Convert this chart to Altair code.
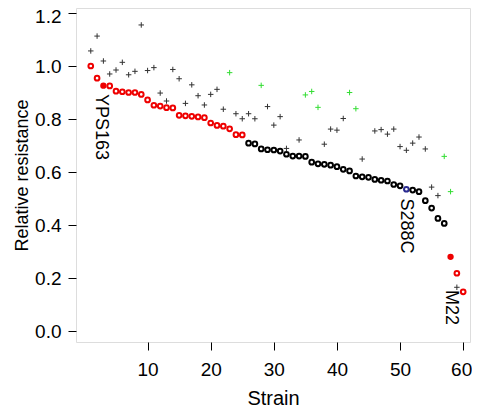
import altair as alt
import pandas as pd

strain = list(range(1, 61))
resist = [1.000, 0.954, 0.926, 0.925, 0.905, 0.903, 0.900, 0.900, 0.893, 0.872,
          0.852, 0.849, 0.843, 0.842, 0.814, 0.812, 0.810, 0.808, 0.805, 0.785,
          0.776, 0.773, 0.763, 0.741, 0.740, 0.709, 0.706, 0.687, 0.684, 0.683,
          0.679, 0.667, 0.660, 0.660, 0.659, 0.637, 0.631, 0.629, 0.626, 0.620,
          0.610, 0.604, 0.585, 0.582, 0.580, 0.572, 0.569, 0.566, 0.553, 0.548,
          0.535, 0.532, 0.526, 0.492, 0.464, 0.425, 0.406, 0.280, 0.218, 0.148]
group = (["red"] * 25 + ["black"] * 25 + ["blue"] + ["black"] * 6 + ["red"] * 3)
filled = [False] * 60
filled[2] = True
filled[57] = True

plus_val = [1.057, 1.113, 1.019, 0.970, 0.985, 1.014, 0.967, 0.980, 1.155, 0.983,
            0.994, 0.898, 0.868, 0.987, 0.952, 0.859, 0.929, 0.888, 0.853, 0.893,
            0.912, 0.837, 0.975, 0.820, 0.801, 0.820, 0.801, 0.927, 0.847, 0.777,
            0.809, 0.689, None, 0.721, 0.891, 0.904, 0.844, 0.705, 0.762, 0.758,
            0.802, 0.900, 0.839, 0.649, None, 0.755, 0.760, 0.743, 0.762, 0.696,
            0.682, 0.709, 0.732, 0.687, 0.543, 0.511, 0.659, 0.526, 0.165, None]
green_idx = [23, 28, 35, 36, 37, 42, 43, 57, 58]
plus_group = ["green" if s in green_idx else "plus" for s in strain]

lab_text = ["YPS163", "S288C", "M22"]
lab_x = [2.68, 51.0, 58.1]
lab_y = [0.770, 0.396, 0.089]

df = pd.DataFrame({"strain": strain, "resist": resist, "group": group, "filled": filled})
dp = pd.DataFrame({"strain": strain, "val": plus_val, "group": plus_group}).dropna()
dl = pd.DataFrame({"text": lab_text, "x": lab_x, "y": lab_y})

FONT = "Liberation Sans"
xs = alt.Scale(domain=[-1.34, 61.08], nice=False, zero=False)
ys = alt.Scale(domain=[-0.0415, 1.219], nice=False, zero=False)

xax = alt.Axis(values=[10, 20, 30, 40, 50, 60], title="Strain", labelFontSize=19,
               titleFontSize=20, titleFontWeight="normal", tickSize=8, labelPadding=10,
               titlePadding=9, domain=False, grid=False, tickColor="black",
               labelColor="black", titleColor="black", labelFont=FONT, titleFont=FONT,
               labelFlush=False,
               labelOffset={"condition": {"test": "datum.value == 60", "value": -2}, "value": 0})
yax = alt.Axis(values=[0, 0.2, 0.4, 0.6, 0.8, 1.0, 1.2], format=".1f",
               title="Relative resistance", labelFontSize=19, titleFontSize=18,
               titleFontWeight="normal", tickSize=8, labelPadding=7, titlePadding=3,
               domain=False, grid=False, tickColor="black", labelColor="black",
               titleColor="black", labelFont=FONT, titleFont=FONT, labelFlush=False,
               labelOffset={"condition": {"test": "datum.value > 1.1", "value": 3}, "value": 0})

cscale = alt.Scale(domain=["red", "black", "blue", "plus", "green"],
                   range=["#ee0000", "#000000", "#2a2a90", "#333333", "#33dd33"])

base = alt.Chart(df)
open_c = base.transform_filter("!datum.filled").mark_point(
    shape="circle", filled=False, size=22, strokeWidth=2, opacity=1
).encode(
    x=alt.X("strain:Q", scale=xs, axis=xax),
    y=alt.Y("resist:Q", scale=ys, axis=yax),
    color=alt.Color("group:N", scale=cscale, legend=None),
)
fill_c = base.transform_filter("datum.filled").mark_point(
    shape="circle", filled=True, size=40, opacity=1
).encode(
    x=alt.X("strain:Q", scale=xs),
    y=alt.Y("resist:Q", scale=ys),
    color=alt.Color("group:N", scale=cscale, legend=None),
)
plus = alt.Chart(dp).mark_point(
    shape="M-1,0L1,0M0,-1L0,1", filled=False, size=30, strokeWidth=1, opacity=1
).encode(
    x=alt.X("strain:Q", scale=xs),
    y=alt.Y("val:Q", scale=ys),
    color=alt.Color("group:N", scale=cscale, legend=None),
)
labels = alt.Chart(dl).mark_text(
    angle=90, align="center", baseline="middle", fontSize=18, font=FONT, color="black"
).encode(
    x=alt.X("x:Q", scale=xs),
    y=alt.Y("y:Q", scale=ys),
    text="text:N",
)

chart = alt.layer(open_c, fill_c, plus, labels).properties(
    width=394, height=334,
    autosize=alt.AutoSizeParams(type="none"),
    padding={"left": 68, "top": 0, "right": 2, "bottom": 66},
).configure_view(stroke="black", strokeWidth=1.5).configure(background="white")

chart.save("out.html", embed_options={"renderer": "svg", "actions": False})
